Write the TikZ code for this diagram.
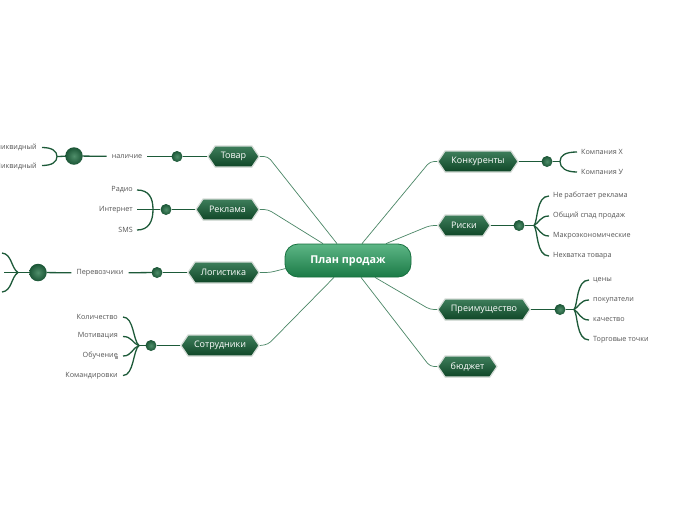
\documentclass[tikz,border=0pt]{standalone}
\usepackage{fontspec}
\setmainfont{Open Sans}
\usetikzlibrary{shapes.symbols,backgrounds,calc}
\definecolor{lineG}{HTML}{1D5A39}
\definecolor{thinG}{HTML}{4A8666}
\definecolor{topT}{HTML}{3E7E5B}
\definecolor{topB}{HTML}{0F4627}
\definecolor{hexB}{HTML}{D4DBD6}
\definecolor{txtG}{HTML}{555555}
\definecolor{planT}{HTML}{5DB686}
\definecolor{planB}{HTML}{1B7A46}
\definecolor{planD}{HTML}{17703F}
\definecolor{dotI}{HTML}{4F8E6A}
\definecolor{dotO}{HTML}{1A5535}
\tikzset{
  topic/.style={signal, signal to=west and east, signal pointer angle=112,
    minimum height=21, inner xsep=3, inner ysep=0, top color=topT, bottom color=topB,
    draw=hexB, line width=1.2, text=white, font=\fontsize{9}{10}\selectfont},
  plan/.style={rectangle, rounded corners=13, minimum width=126, minimum height=33,
    top color=planT, bottom color=planB, draw=planD, line width=0.8, text=white,
    font=\bfseries\fontsize{10.8}{12}\selectfont},
  subt/.style={text=txtG, font=\fontsize{7.2}{8}\selectfont, inner sep=0},
  dot/.style={circle, minimum size=11, inner sep=0, inner color=dotI, outer color=dotO},
  bigdot/.style={circle, minimum size=17.5, inner sep=0, inner color=dotI, outer color=dotO},
  conn/.style={draw=lineG, line width=1.3},
  thinc/.style={draw=thinG, line width=0.7, rounded corners=4},
}
\begin{document}
\begin{tikzpicture}[x=1pt,y=-1pt]
\useasboundingbox (0,0) rectangle (696,520);
\clip (0,0) rectangle (696,520);

% central
\node[plan] (plan) at (348,260.5) {План продаж};

% topics
\node[topic, minimum width=51] (tovar) at (233.5,156.5) {Товар};
\node[topic, minimum width=63] (reklama) at (227.5,209.5) {Реклама};
\node[topic, minimum width=71] (logist) at (223.5,272.5) {Логистика};
\node[topic, minimum width=78] (sotr) at (220,345.5) {Сотрудники};
\node[topic, minimum width=80] (konk) at (478,161.5) {Конкуренты};
\node[topic, minimum width=52] (riski) at (464,225.5) {Риски};
\node[topic, minimum width=92] (preim) at (484,309.5) {Преимущество};
\node[topic, minimum width=59] (budget) at (467.5,366.5) {бюджет};

\begin{pgfonlayer}{background}
\fill[white] (0,0) rectangle (696,520);
\draw[thinc] (tovar.east) -- (268,156.5) -- ($(plan.north)+(-11,0)$);
\draw[thinc] (reklama.east) -- (268,209.5) -- ($(plan.north)+(-25,0)$);
\draw[thinc] (logist.east) -- (270,272.5) -- ($(plan.west)+(1,8)$);
\draw[thinc] (sotr.east) -- (268,344.5) -- ($(plan.south)+(-14,0)$);
\draw[thinc] (konk.west) -- (430,161.5) -- ($(plan.north)+(14,0)$);
\draw[thinc] (riski.west) -- (430,225.5) -- ($(plan.north)+(38,0)$);
\draw[thinc] (preim.west) -- (430,309.5) -- ($(plan.south)+(27,0)$);
\draw[thinc] (budget.west) -- (430,366.5) -- ($(plan.south)+(13,0)$);
\end{pgfonlayer}

% ---- Товар
\node[dot] (c1) at (177,156.5) {};
\node[subt, inner xsep=5] (nal) at (127,156.5) {наличие};
\node[bigdot] (b1) at (74,156) {};
\node[subt, anchor=east] (t1) at (37,147) {Неликвидный};
\node[subt, anchor=east] (t2) at (37,166) {Ликвидный};
\coordinate (j1) at (57,156.5);
\coordinate (e1a) at (42,147.5);
\coordinate (e1b) at (42,165.5);
\draw[conn] (tovar.west) -- (c1);
\draw[conn] (c1) -- (nal);
\draw[conn] (nal) -- (b1);
\draw[conn] (b1) -- (j1);
\draw[conn] (e1a) .. controls (52,147.5) and (57,151) .. (j1) .. controls (57,162) and (52,165.5) .. (e1b);

% ---- Реклама
\node[dot] (c2) at (166,209.5) {};
\node[subt, anchor=east] (r1) at (133,190) {Радио};
\node[subt, anchor=east] (r2) at (133,210) {Интернет};
\node[subt, anchor=east] (r3) at (133,230) {SMS};
\coordinate (e2a) at (137,190);
\coordinate (e2b) at (137,209.5);
\coordinate (e2c) at (137,230);
\coordinate (j2) at (153,209.5);
\draw[conn] (reklama.west) -- (c2);
\draw[conn] (c2) -- (e2b);
\draw[conn] (e2a) .. controls (149,190) and (153,198) .. (j2) .. controls (153,221) and (149,230) .. (e2c);

% ---- Логистика
\node[dot] (c3) at (157,272.5) {};
\node[subt, inner xsep=5] (perev) at (100,273) {Перевозчики};
\node[bigdot] (b3) at (38,272.5) {};
\coordinate (j3) at (18,272.5);
\coordinate (e3a) at (2,253);
\coordinate (e3b) at (4,272.5);
\coordinate (e3c) at (2,292);
\draw[conn] (logist.west) -- (c3);
\draw[conn] (c3) -- (perev);
\draw[conn] (perev) -- (b3);
\draw[conn] (b3) -- (e3b);
\draw[conn] (e3a) .. controls (12,254) and (11,268) .. (j3) .. controls (11,277) and (12,291) .. (e3c);

% ---- Сотрудники
\node[dot] (c4) at (151,345.5) {};
\node[subt, anchor=east] (s1) at (118,316.5) {Количество};
\node[subt, anchor=east] (s2) at (118,336) {Мотивация};
\node[subt, anchor=east] (s3) at (118,356) {Обучение};
\node[subt, anchor=east] (s4) at (118,375.5) {Командировки};
\node[fill=gray!75, minimum size=2.5, inner sep=0] (ico) at (116.5,357.5) {};
\coordinate (j4) at (139,345.5);
\coordinate (e4a) at (123,317);
\coordinate (e4b) at (123,336.5);
\coordinate (e4c) at (123,356);
\coordinate (e4d) at (123,375.5);
\draw[conn] (sotr.west) -- (c4);
\draw[conn] (c4) -- (j4);
\draw[conn] (e4a) .. controls (134,317) and (133,341) .. (j4);
\draw[conn] (e4b) .. controls (132,336.5) and (132,343) .. (j4);
\draw[conn] (e4c) .. controls (132,356) and (132,348) .. (j4);
\draw[conn] (e4d) .. controls (134,375.5) and (133,350) .. (j4);

% ---- Конкуренты
\node[dot] (c5) at (547,161.5) {};
\node[subt, anchor=west] (k1) at (581,152) {Компания X};
\node[subt, anchor=west] (k2) at (581,172) {Компания У};
\coordinate (j5) at (560,161.5);
\coordinate (e5a) at (577,152);
\coordinate (e5b) at (577,172);
\draw[conn] (konk.east) -- (c5);
\draw[conn] (c5) -- (j5);
\draw[conn] (e5a) .. controls (566,152) and (560,155) .. (j5) .. controls (560,168) and (566,172) .. (e5b);

% ---- Риски
\node[dot] (c6) at (519,225.5) {};
\node[subt, anchor=west] (q1) at (553,196) {Не работает реклама};
\node[subt, anchor=west] (q2) at (553,216) {Общий спад продаж};
\node[subt, anchor=west] (q3) at (553,236) {Макроэкономические};
\node[subt, anchor=west] (q4) at (553,256) {Нехватка товара};
\coordinate (j6) at (534,225.5);
\coordinate (e6a) at (549,196);
\coordinate (e6b) at (549,216);
\coordinate (e6c) at (549,236);
\coordinate (e6d) at (549,256);
\draw[conn] (riski.east) -- (c6);
\draw[conn] (c6) -- (j6);
\draw[conn] (j6) .. controls (538,221) and (536,196) .. (e6a);
\draw[conn] (j6) .. controls (539,223) and (540,216) .. (e6b);
\draw[conn] (j6) .. controls (539,228) and (540,236) .. (e6c);
\draw[conn] (j6) .. controls (538,230) and (536,256) .. (e6d);

% ---- Преимущество
\node[dot] (c7) at (560,309.5) {};
\node[subt, anchor=west] (p1) at (593,280) {цены};
\node[subt, anchor=west] (p2) at (593,300) {покупатели};
\node[subt, anchor=west] (p3) at (593,320) {качество};
\node[subt, anchor=west] (p4) at (593,340) {Торговые точки};
\coordinate (j7) at (574,309.5);
\coordinate (e7a) at (589,280);
\coordinate (e7b) at (589,300);
\coordinate (e7c) at (589,320);
\coordinate (e7d) at (589,340);
\draw[conn] (preim.east) -- (c7);
\draw[conn] (c7) -- (j7);
\draw[conn] (j7) .. controls (578,305) and (576,280) .. (e7a);
\draw[conn] (j7) .. controls (579,307) and (580,300) .. (e7b);
\draw[conn] (j7) .. controls (579,312) and (580,320) .. (e7c);
\draw[conn] (j7) .. controls (578,314) and (576,340) .. (e7d);
\end{tikzpicture}
\end{document}
